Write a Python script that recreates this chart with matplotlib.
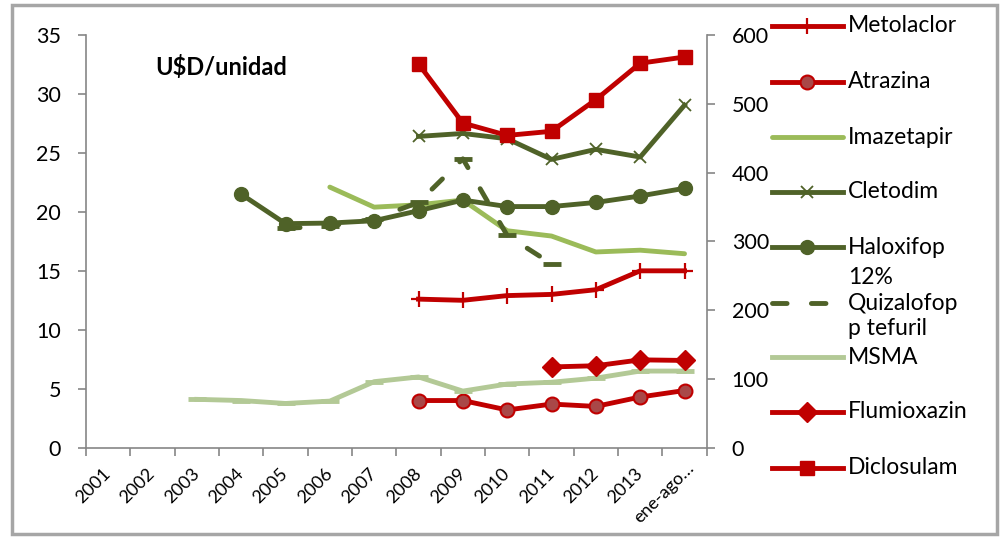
import numpy as np
import matplotlib.pyplot as plt
import matplotlib.transforms as mtransforms
from matplotlib.patches import Rectangle

plt.rcParams['font.family'] = ['Lato', 'DejaVu Sans']

nan = np.nan
categories = ['2001', '2002', '2003', '2004', '2005', '2006', '2007',
              '2008', '2009', '2010', '2011', '2012', '2013', 'ene-ago…']

# U$D/unidad, eje izquierdo
metolaclor = [nan]*7 + [12.6, 12.5, 12.9, 13.0, 13.4, 15.0, 15.0]
atrazina = [nan]*7 + [4.0, 4.0, 3.2, 3.7, 3.5, 4.3, 4.85]
imazetapir = [nan]*5 + [22.1, 20.4, 20.6, 21.0, 18.4, 17.95, 16.6, 16.75, 16.45]
cletodim = [nan]*7 + [26.4, 26.65, 26.2, 24.45, 25.3, 24.65, 29.05]
haloxifop = [nan]*3 + [21.5, 19.0, 19.05, 19.25, 20.1, 21.0, 20.45, 20.45, 20.8, 21.35, 22.0]
quizalofop = [nan]*4 + [18.6, 18.8, 19.4, 20.8, 24.5, 18.0, 15.6] + [nan]*3
msma = [nan]*2 + [4.1, 4.0, 3.75, 3.95, 5.6, 6.0, 4.8, 5.4, 5.55, 5.9, 6.5, 6.5]
flumioxazin = [nan]*10 + [6.85, 6.95, 7.45, 7.4]
# eje derecho
diclosulam = [nan]*7 + [558, 472, 454, 460, 506, 559, 568]

RED = '#C00000'
DKGREEN = '#4F6228'
GREEN = '#9BBB59'
PALE = '#B3C996'
LW = 3.5

styles = {
    'Metolaclor': dict(color=RED, lw=LW, marker='+', ms=11, mew=1.6, mec=RED),
    'Atrazina': dict(color=RED, lw=LW, marker='o', ms=10, mfc='#A94848', mec=RED, mew=1.5),
    'Imazetapir': dict(color=GREEN, lw=LW, solid_capstyle='round'),
    'Cletodim': dict(color=DKGREEN, lw=LW, marker='x', ms=9, mew=1.3, mec=DKGREEN),
    'Haloxifop': dict(color=DKGREEN, lw=LW, marker='o', ms=10, mfc=DKGREEN, mec=DKGREEN),
    '12% Quizalofop p tefuril': dict(color=DKGREEN, lw=LW, ls=(0, (3, 5)), dash_capstyle='round',
                                     marker='_', ms=13, mew=LW, mec=DKGREEN),
    'MSMA': dict(color=PALE, lw=LW, marker='_', ms=13, mew=LW, mec=PALE),
    'Flumioxazin': dict(color=RED, lw=LW, marker='D', ms=10, mfc=RED, mec=RED),
    'Diclosulam': dict(color=RED, lw=LW, marker='s', ms=10.5, mfc=RED, mec=RED),
}
left_series = [('Metolaclor', metolaclor), ('Atrazina', atrazina), ('Imazetapir', imazetapir),
               ('Cletodim', cletodim), ('Haloxifop', haloxifop),
               ('12% Quizalofop p tefuril', quizalofop), ('MSMA', msma),
               ('Flumioxazin', flumioxazin)]

W, H = 1006, 538
fig = plt.figure(figsize=(W/100, H/100), dpi=100)
ax = fig.add_axes([86/W, 1-447.7/H, (706.7-86)/W, (447.7-35)/H])
ax2 = ax.twinx()

x = np.arange(len(categories))
for name, vals in left_series:
    ax.plot(x, vals, **styles[name])
ax2.plot(x, diclosulam, **styles['Diclosulam'])

SPINE = '#868686'
ax.set_xlim(-0.5, len(categories)-0.5)
ax.set_ylim(0, 35)
ax.set_yticks(np.arange(0, 36, 5))
ax2.set_ylim(0, 600)
ax2.set_yticks(np.arange(0, 601, 100))
ax.set_xticks(np.arange(-0.5, len(categories), 1))
ax.set_xticklabels([])
ax.set_xticks(x, minor=True)
ax.set_xticklabels(categories, minor=True, rotation=45, ha='right', va='center',
                   rotation_mode='anchor', fontsize=13)
ax.tick_params(axis='x', which='major', length=6, color=SPINE, width=1.2)
ax.tick_params(axis='x', which='minor', length=0, pad=17)
ax.tick_params(axis='y', length=6, color=SPINE, width=1.2, labelsize=15.5, pad=12)
ax2.tick_params(axis='y', length=6, color=SPINE, width=1.2, labelsize=15.5, pad=12)
for a in (ax, ax2):
    a.spines['top'].set_visible(False)
    for s in ('left', 'right', 'bottom'):
        a.spines[s].set_color(SPINE)
        a.spines[s].set_linewidth(1.2)
ax.spines['right'].set_visible(False)
ax2.spines['left'].set_visible(False)
ax2.spines['bottom'].set_visible(False)

# la ultima etiqueta sale un poco mas arriba y a la derecha
last = ax.xaxis.get_minor_ticks()[-1].label1
last.set_transform(last.get_transform() +
                   mtransforms.ScaledTranslation(7/100, 6/100, fig.dpi_scale_trans))

fig.text(155/W, 1-67/H, 'U$D/unidad', fontsize=17, fontweight='bold', va='center', ha='left')

# leyenda
lg = fig.add_axes([0, 0, 1, 1], facecolor='none')
lg.set_xlim(0, W)
lg.set_ylim(H, 0)
lg.axis('off')
names = [n for n, _ in left_series] + ['Diclosulam']
rows = [26, 82, 137, 192, 247, 303, 357, 412, 468]
for name, yy in zip(names, rows):
    st = dict(styles[name])
    mk = {k: st.pop(k) for k in ('marker', 'ms', 'mew', 'mfc', 'mec') if k in st}
    lg.plot([772, 843], [yy, yy], **st)
    if mk.get('marker') not in (None, '_'):
        lg.plot([807.5], [yy], ls='none', **mk)
    label = '12%\nQuizalofop\np tefuril' if name.startswith('12%') else name
    lg.text(848, yy, label, fontsize=16.5, va='center', ha='left', linespacing=1.25)

fig.patches.append(Rectangle((12/W, 1-534/H), 985/W, 529/H, transform=fig.transFigure,
                             fill=False, ec='#A6A6A6', lw=2.5))

fig.savefig('out.png', dpi=100)
